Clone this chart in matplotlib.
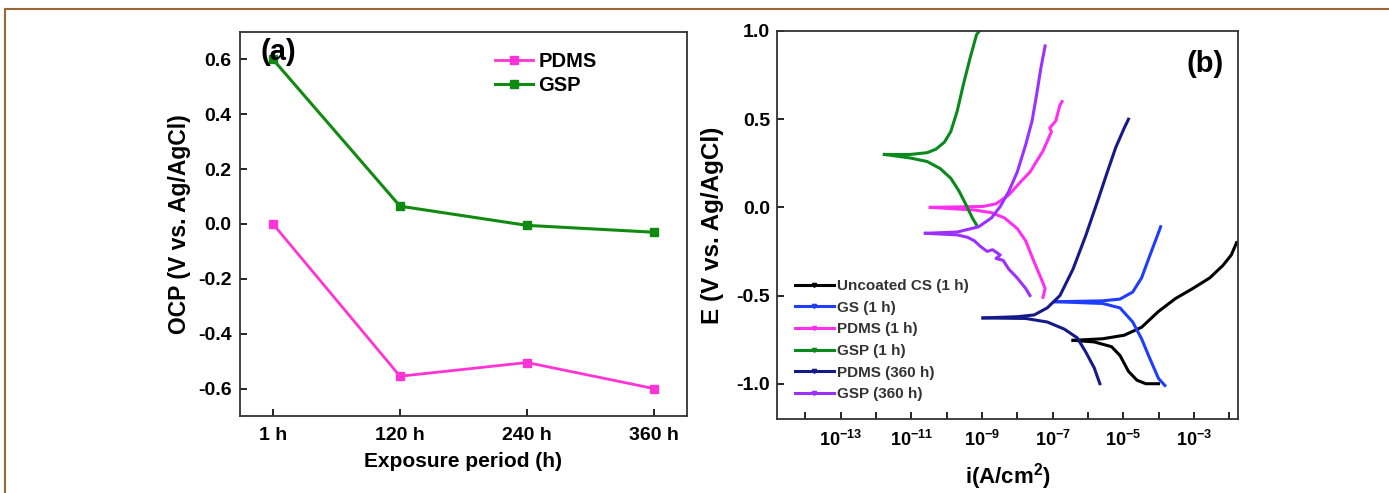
import numpy as np
import matplotlib
matplotlib.use('Agg')
import matplotlib.pyplot as plt
from matplotlib.lines import Line2D

plt.rcParams['font.family'] = ['Liberation Sans', 'DejaVu Sans']
plt.rcParams['font.weight'] = 'bold'
plt.rcParams['mathtext.fontset'] = 'custom'
plt.rcParams['mathtext.rm'] = 'Liberation Sans:bold'
plt.rcParams['mathtext.default'] = 'rm'
plt.rcParams['axes.unicode_minus'] = False

# (a) open circuit potential
periods = ['1 h', '120 h', '240 h', '360 h']
ocp_pdms = [0.0, -0.555, -0.505, -0.60]
ocp_gsp = [0.60, 0.065, -0.005, -0.03]

# (b) Tafel curves: log10(i) and E for anodic / cathodic branches
cs_an_logi = [-6.42, -5.58, -4.97, -4.48, -4.0, -3.52, -3.03, -2.55, -2.18, -1.94, -1.79]
cs_an_e = [-0.754, -0.745, -0.725, -0.68, -0.59, -0.517, -0.46, -0.40, -0.33, -0.27, -0.20]
cs_ca_logi = [-6.42, -5.82, -5.33, -5.09, -4.85, -4.61, -4.36, -4.0]
cs_ca_e = [-0.754, -0.763, -0.79, -0.84, -0.93, -0.98, -1.0, -1.0]

gs_an_logi = [-6.91, -5.58, -5.09, -4.73, -4.48, -4.24, -4.06, -3.94]
gs_an_e = [-0.535, -0.53, -0.52, -0.48, -0.40, -0.27, -0.175, -0.11]
gs_ca_logi = [-6.91, -5.58, -5.09, -4.73, -4.48, -4.24, -4.0, -3.82]
gs_ca_e = [-0.535, -0.545, -0.57, -0.65, -0.745, -0.86, -0.97, -1.01]

pdms1_an_logi = [-10.46, -8.97, -8.6, -8.24, -7.88, -7.64, -7.27, -7.03, -7.08, -6.91, -6.79, -6.73]
pdms1_an_e = [0.0, 0.005, 0.02, 0.07, 0.15, 0.20, 0.32, 0.43, 0.45, 0.49, 0.58, 0.60]
pdms1_ca_logi = [-10.46, -9.21, -8.73, -8.36, -8.0, -7.76, -7.52, -7.33, -7.21, -7.27]
pdms1_ca_e = [0.0, -0.015, -0.03, -0.06, -0.12, -0.19, -0.31, -0.40, -0.46, -0.51]

gsp1_an_logi = [-11.76, -11.03, -10.55, -10.30, -10.06, -9.88, -9.70, -9.52, -9.33, -9.15, -9.07]
gsp1_an_e = [0.30, 0.30, 0.31, 0.33, 0.37, 0.43, 0.545, 0.70, 0.85, 0.98, 1.0]
gsp1_ca_logi = [-11.76, -11.03, -10.55, -10.18, -9.88, -9.64, -9.45, -9.27, -9.15]
gsp1_ca_e = [0.30, 0.28, 0.26, 0.22, 0.165, 0.09, 0.015, -0.06, -0.10]

pdms360_an_logi = [-8.97, -8.0, -7.52, -7.15, -6.79, -6.42, -6.06, -5.70, -5.45, -5.21, -4.97, -4.85]
pdms360_an_e = [-0.627, -0.62, -0.61, -0.57, -0.50, -0.35, -0.16, 0.05, 0.20, 0.34, 0.45, 0.50]
pdms360_ca_logi = [-8.97, -7.76, -7.15, -6.67, -6.30, -6.06, -5.82, -5.66]
pdms360_ca_e = [-0.627, -0.63, -0.65, -0.69, -0.74, -0.82, -0.91, -1.0]

gsp360_an_logi = [-10.6, -9.7, -9.09, -8.73, -8.48, -8.24, -8.0, -7.76, -7.58, -7.45, -7.33, -7.21]
gsp360_an_e = [-0.147, -0.14, -0.11, -0.06, 0.005, 0.09, 0.20, 0.355, 0.49, 0.64, 0.79, 0.915]
gsp360_ca_logi = [-10.6, -9.7, -9.4, -9.21, -9.05, -8.85, -8.7, -8.48, -8.6, -8.4, -8.24, -8.0, -7.76, -7.64]
gsp360_ca_e = [-0.147, -0.156, -0.17, -0.19, -0.22, -0.25, -0.24, -0.27, -0.29, -0.30, -0.35, -0.40, -0.46, -0.50]

curves = [
    ('Uncoated CS (1 h)', 'black', cs_an_logi, cs_an_e, cs_ca_logi, cs_ca_e),
    ('GS (1 h)', '#1f3dff', gs_an_logi, gs_an_e, gs_ca_logi, gs_ca_e),
    ('PDMS (1 h)', '#ff2ef0', pdms1_an_logi, pdms1_an_e, pdms1_ca_logi, pdms1_ca_e),
    ('GSP (1 h)', '#0a8a1e', gsp1_an_logi, gsp1_an_e, gsp1_ca_logi, gsp1_ca_e),
    ('PDMS (360 h)', '#151a8a', pdms360_an_logi, pdms360_an_e, pdms360_ca_logi, pdms360_ca_e),
    ('GSP (360 h)', '#9b30ff', gsp360_an_logi, gsp360_an_e, gsp360_ca_logi, gsp360_ca_e),
]

fig = plt.figure(figsize=(13.89, 4.93), dpi=100)

# thin brown frame like the journal page
fig.add_artist(Line2D([5 / 1389, 1], [1 - 9 / 493, 1 - 9 / 493], color='#9a6634', lw=1.5))
fig.add_artist(Line2D([5 / 1389, 5 / 1389], [0, 1 - 9 / 493], color='#9a6634', lw=1.5))

# ---- panel (a)
ax1 = fig.add_axes([240 / 1389, 1 - 416 / 493, 447 / 1389, 384 / 493])
x = np.arange(len(periods))
ax1.plot(x, ocp_pdms, color='#ff33d6', lw=2, marker='s', ms=5.5, label='PDMS')
ax1.plot(x, ocp_gsp, color='#118a11', lw=2.2, marker='s', ms=5.5, label='GSP')
ax1.set_xlim(-0.26, 3.26)
ax1.set_ylim(-0.7, 0.7)
ax1.set_xticks(x)
ax1.set_xticklabels(periods)
ax1.set_yticks([-0.6, -0.4, -0.2, 0.0, 0.2, 0.4, 0.6])
ax1.set_xlabel('Exposure period (h)', fontsize=15, fontweight='bold', labelpad=6)
ax1.set_ylabel('OCP (V vs. Ag/AgCl)', fontsize=16.5, fontweight='bold', labelpad=5)
ax1.tick_params(direction='in', labelsize=14, length=5, width=1.2, pad=6)
ax1.tick_params(axis='x', pad=8)
ax1.text(0.045, 0.985, '(a)', transform=ax1.transAxes, fontsize=21, fontweight='bold',
         ha='left', va='top')
ax1.legend(loc='upper left', bbox_to_anchor=(0.53, 0.995), frameon=False, fontsize=14.5,
           handlelength=1.9, labelspacing=0.25, handletextpad=0.25)

# ---- panel (b)
ax2 = fig.add_axes([777 / 1389, 1 - 419 / 493, 461 / 1389, 388 / 493])
for name, col, al, ae, cl, ce in curves:
    ax2.plot(10.0 ** np.array(al), ae, color=col, lw=2.2, label=name)
    ax2.plot(10.0 ** np.array(cl), ce, color=col, lw=2.2)
ax2.set_xscale('log')
ax2.set_xlim(10 ** -14.8, 10 ** -1.75)
ax2.set_ylim(-1.2, 1.0)
ax2.set_xticks([10.0 ** k for k in range(-14, -1)])
ax2.set_xticklabels(['' if k % 2 == 0 else r'$10^{%d}$' % k for k in range(-14, -1)])
ax2.xaxis.set_minor_locator(matplotlib.ticker.NullLocator())
ax2.set_yticks([-1.0, -0.5, 0.0, 0.5, 1.0])
ax2.tick_params(direction='in', labelsize=14, length=5, width=1.2, pad=5)
ax2.tick_params(axis='x', labelsize=13, pad=8)
ax2.set_xlabel(r'i(A/cm$^{2}$)', fontsize=16, fontweight='bold', labelpad=8)
ax2.set_ylabel('E (V vs. Ag/AgCl)', fontsize=17.5, fontweight='bold', labelpad=9)
ax2.text(0.97, 0.95, '(b)', transform=ax2.transAxes, fontsize=21, fontweight='bold',
         ha='right', va='top')

handles = [Line2D([0], [0], color=c[1], lw=2.2, marker='v', ms=3) for c in curves]
leg = ax2.legend(handles, [c[0] for c in curves], loc='lower left', bbox_to_anchor=(0.01, 0.01),
                 frameon=False, fontsize=11, handlelength=2.5, labelspacing=0.5,
                 handletextpad=0.2, numpoints=1)
for t in leg.get_texts():
    t.set_color('#333333')

for ax in (ax1, ax2):
    for s in ax.spines.values():
        s.set_linewidth(1.3)
        s.set_color('#333333')

fig.savefig('out.png', dpi=100)
